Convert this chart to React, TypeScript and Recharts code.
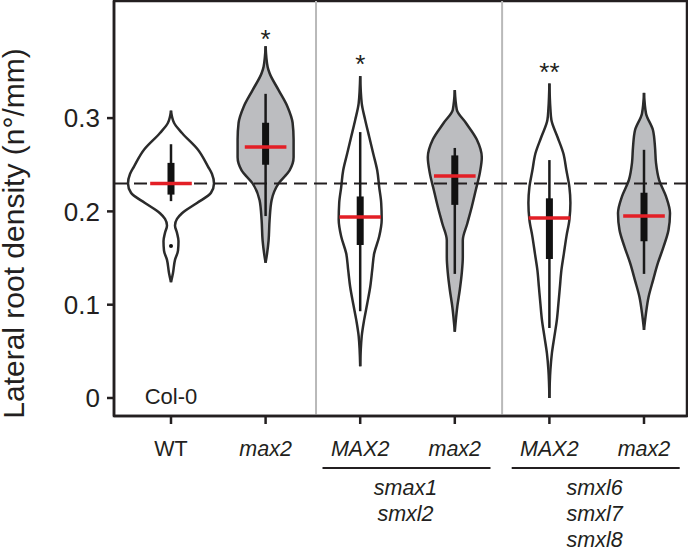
import React from 'react';
import {
  ComposedChart,
  Area,
  XAxis,
  YAxis,
  ReferenceLine,
  ReferenceArea,
  ReferenceDot,
  Label,
} from 'recharts';

// ---------- data ----------
const categories = ['WT', 'max2', 'MAX2', 'max2', 'MAX2', 'max2'];
const italicFlags = [false, true, true, true, true, true];
const groupPositions = [2.5, 4.5];
const groupLines = [
  ['smax1', 'smxl2'],
  ['smxl6', 'smxl7', 'smxl8'],
];
const yTicks = [0, 0.1, 0.2, 0.3];
const controlLevel = 0.23;
const separators = [1.533, 3.5];

// violin profiles: value (y) and relative density (half width)
const wtY = [0.124, 0.134, 0.148, 0.158, 0.168, 0.177, 0.185, 0.192, 0.198, 0.209, 0.22, 0.23, 0.24, 0.248, 0.266, 0.284, 0.295, 0.308];
const wtD = [0, 2, 4, 7, 7.5, 6, 4, 6, 11, 26, 40, 43, 41, 37, 27, 11, 3, 0];

const max2Y = [0.145, 0.155, 0.169, 0.191, 0.212, 0.23, 0.244, 0.258, 0.277, 0.295, 0.312, 0.33, 0.348, 0.355, 0.377];
const max2D = [0, 1.5, 3, 4, 6, 13, 24, 28, 28, 27, 22, 13, 4, 2, 0];

const smaxMAX2Y = [0.034, 0.066, 0.084, 0.101, 0.119, 0.137, 0.155, 0.173, 0.191, 0.209, 0.226, 0.244, 0.262, 0.28, 0.298, 0.316, 0.345];
const smaxMAX2D = [0, 1.5, 4, 7, 10, 12, 14, 19, 21.5, 21, 19, 17, 13, 9, 5, 1.5, 0];

const smaxmax2Y = [0.071, 0.098, 0.116, 0.134, 0.151, 0.169, 0.187, 0.205, 0.223, 0.241, 0.258, 0.277, 0.295, 0.309, 0.33];
const smaxmax2D = [0, 2.5, 5, 7, 8, 8, 12.5, 17, 21, 25, 27, 22, 11, 2, 0];

const smxlMAX2Y = [0.0, 0.03, 0.048, 0.066, 0.084, 0.101, 0.119, 0.137, 0.155, 0.173, 0.191, 0.209, 0.226, 0.244, 0.262, 0.28, 0.298, 0.31, 0.337];
const smxlMAX2D = [0, 1, 2.5, 5, 7.5, 9, 10.5, 12, 14.5, 17, 20, 21, 20, 17, 14, 8, 2, 1, 0];

const smxlmax2Y = [0.073, 0.091, 0.108, 0.126, 0.145, 0.162, 0.18, 0.198, 0.216, 0.234, 0.252, 0.269, 0.287, 0.305, 0.327];
const smxlmax2D = [0, 2, 4.5, 9, 14, 19.5, 24.5, 26, 22, 15, 12, 11, 9, 2, 0];

// box statistics
const whiskerLow = [0.211, 0.195, 0.093, 0.133, 0.075, 0.133];
const whiskerHigh = [0.272, 0.326, 0.285, 0.268, 0.255, 0.266];
const q1 = [0.218, 0.25, 0.164, 0.207, 0.149, 0.168];
const q3 = [0.252, 0.295, 0.216, 0.26, 0.214, 0.22];
const medians = [0.23, 0.269, 0.194, 0.238, 0.193, 0.195];
const outliersX = [0];
const outliersY = [0.163];

// significance marks
const starLabels = ['', '*', '*', '', '**', ''];
const starY = [0, 0.3847, 0.358, 0, 0.3493, 0];

// ---------- styling constants ----------
const FONT = 'Liberation Sans, Arial, Helvetica, sans-serif';
const INK = '#231f20';
const GREY_FILL = '#bcbdc0';
const fills = ['#ffffff', GREY_FILL, '#ffffff', GREY_FILL, '#ffffff', GREY_FILL];
const DENS_TO_X = 1 / 94.6;
const MEDIAN_HALF = 0.22;
const X_DOMAIN: [number, number] = [-0.6025, 5.4545];
const Y_DOMAIN: [number, number] = [-0.0193, 0.4255];

const violinY = [wtY, max2Y, smaxMAX2Y, smaxmax2Y, smxlMAX2Y, smxlmax2Y];
const violinD = [wtD, max2D, smaxMAX2D, smaxmax2D, smxlMAX2D, smxlmax2D];

const rows: any[] = [];
violinY.forEach((ys, i) => {
  ys.forEach((yy, j) => {
    const row: any = { y: yy };
    for (let k = 0; k < categories.length; k++) {
      row['v' + k] =
        k === i
          ? [i - violinD[i][j] * DENS_TO_X, i + violinD[i][j] * DENS_TO_X]
          : [null, null];
    }
    rows.push(row);
  });
});

const xTickValues = [0, 1, 2, 2.5, 3, 4, 4.5, 5];

const XTick = (props: any) => {
  const { x, y, payload } = props;
  const v = payload.value;
  const gi = groupPositions.indexOf(v);
  if (gi >= 0) {
    return (
      <g>
        <line x1={x - 85} x2={x + 83} y1={y + 44} y2={y + 44} stroke={INK} strokeWidth={2} />
        {groupLines[gi].map((t, k) => (
          <text
            key={k}
            x={x - 2}
            y={y + 71 + 26 * k}
            textAnchor="middle"
            fontStyle="italic"
            fontSize={21.5}
            fontFamily={FONT}
            fill={INK}
          >
            {t}
          </text>
        ))}
      </g>
    );
  }
  const idx = Math.round(v);
  return (
    <g>
      <line x1={x} x2={x} y1={y - 8} y2={y} stroke={INK} strokeWidth={2.5} />
      <text
        x={x}
        y={y + 31.7}
        textAnchor="middle"
        fontStyle={italicFlags[idx] ? 'italic' : 'normal'}
        fontSize={21.5}
        fontFamily={FONT}
        fill={INK}
      >
        {categories[idx]}
      </text>
    </g>
  );
};

const YLabel = (props: any) => {
  const vb = props.viewBox || { x: 0, y: 1, width: 114, height: 415 };
  const cx = vb.x + 24;
  const cy = vb.y + vb.height / 2 + 25;
  return (
    <text
      x={cx}
      y={cy}
      transform={`rotate(-90, ${cx}, ${cy})`}
      textAnchor="middle"
      fontSize={30}
      fontFamily={FONT}
      fill={INK}
    >
      Lateral root density (n°/mm)
    </text>
  );
};

export default function App() {
  return (
    <div style={{ position: 'absolute', left: 0, top: 0, background: '#fff' }}>
      <ComposedChart
        width={688}
        height={549}
        layout="vertical"
        data={rows}
        margin={{ top: 1, right: 1, bottom: 0, left: 0 }}
      >
        <XAxis
          type="number"
          domain={X_DOMAIN}
          allowDataOverflow
          ticks={xTickValues}
          interval={0}
          tick={<XTick />}
          tickLine={false}
          tickSize={8}
          tickMargin={0}
          height={133}
          axisLine={{ stroke: INK, strokeWidth: 2.5 }}
        />
        <YAxis
          type="number"
          dataKey="y"
          domain={Y_DOMAIN}
          allowDataOverflow
          reversed
          ticks={yTicks}
          interval={0}
          tickFormatter={(v: number) => (v === 0 ? '0' : v.toFixed(1))}
          width={114}
          tickSize={7}
          tickMargin={7}
          tick={{ fontSize: 26, fill: INK, fontFamily: FONT }}
          tickLine={{ stroke: INK, strokeWidth: 2.5 }}
          axisLine={{ stroke: INK, strokeWidth: 2.5 }}
        >
          <Label content={<YLabel />} />
        </YAxis>

        <ReferenceArea
          x1={X_DOMAIN[0]}
          x2={X_DOMAIN[1]}
          y1={Y_DOMAIN[0]}
          y2={Y_DOMAIN[1]}
          fill="none"
          stroke={INK}
          strokeWidth={2.5}
          ifOverflow="visible"
        />
        {separators.map((s, i) => (
          <ReferenceLine key={'sep' + i} x={s} stroke="#b9b9b9" strokeWidth={2} />
        ))}

        {categories.map((_, i) => (
          <Area
            key={'vio' + i}
            dataKey={'v' + i}
            type="monotone"
            connectNulls
            fill={fills[i]}
            fillOpacity={1}
            stroke="#2b2b2b"
            strokeWidth={2.5}
            dot={false}
            activeDot={false}
            isAnimationActive={false}
          />
        ))}

        <ReferenceLine
          y={controlLevel}
          stroke={INK}
          strokeWidth={2}
          strokeDasharray="13 7"
        />

        {categories.map((_, i) => (
          <ReferenceLine
            key={'wh' + i}
            segment={[
              { x: i, y: whiskerLow[i] },
              { x: i, y: whiskerHigh[i] },
            ]}
            stroke="#1a1a1a"
            strokeWidth={2.5}
          />
        ))}
        {categories.map((_, i) => (
          <ReferenceLine
            key={'box' + i}
            segment={[
              { x: i, y: q1[i] },
              { x: i, y: q3[i] },
            ]}
            stroke="#111"
            strokeWidth={7}
          />
        ))}
        {categories.map((_, i) => (
          <ReferenceLine
            key={'med' + i}
            segment={[
              { x: i - MEDIAN_HALF, y: medians[i] },
              { x: i + MEDIAN_HALF, y: medians[i] },
            ]}
            stroke="#e31f26"
            strokeWidth={3.5}
          />
        ))}
        {outliersX.map((ox, i) => (
          <ReferenceDot key={'out' + i} x={ox} y={outliersY[i]} r={2} fill="#111" stroke="none" />
        ))}
        {starLabels.map((s, i) =>
          s ? (
            <ReferenceDot
              key={'star' + i}
              x={i}
              y={starY[i]}
              r={0}
              fill="none"
              stroke="none"
              label={{ value: s, position: 'center', fontSize: 26, fill: INK, fontFamily: FONT }}
            />
          ) : null
        )}
        <ReferenceDot
          x={0}
          y={0.002}
          r={0}
          fill="none"
          stroke="none"
          label={{ value: 'Col-0', position: 'center', fontSize: 22, fill: INK, fontFamily: FONT }}
        />
      </ComposedChart>
    </div>
  );
}
